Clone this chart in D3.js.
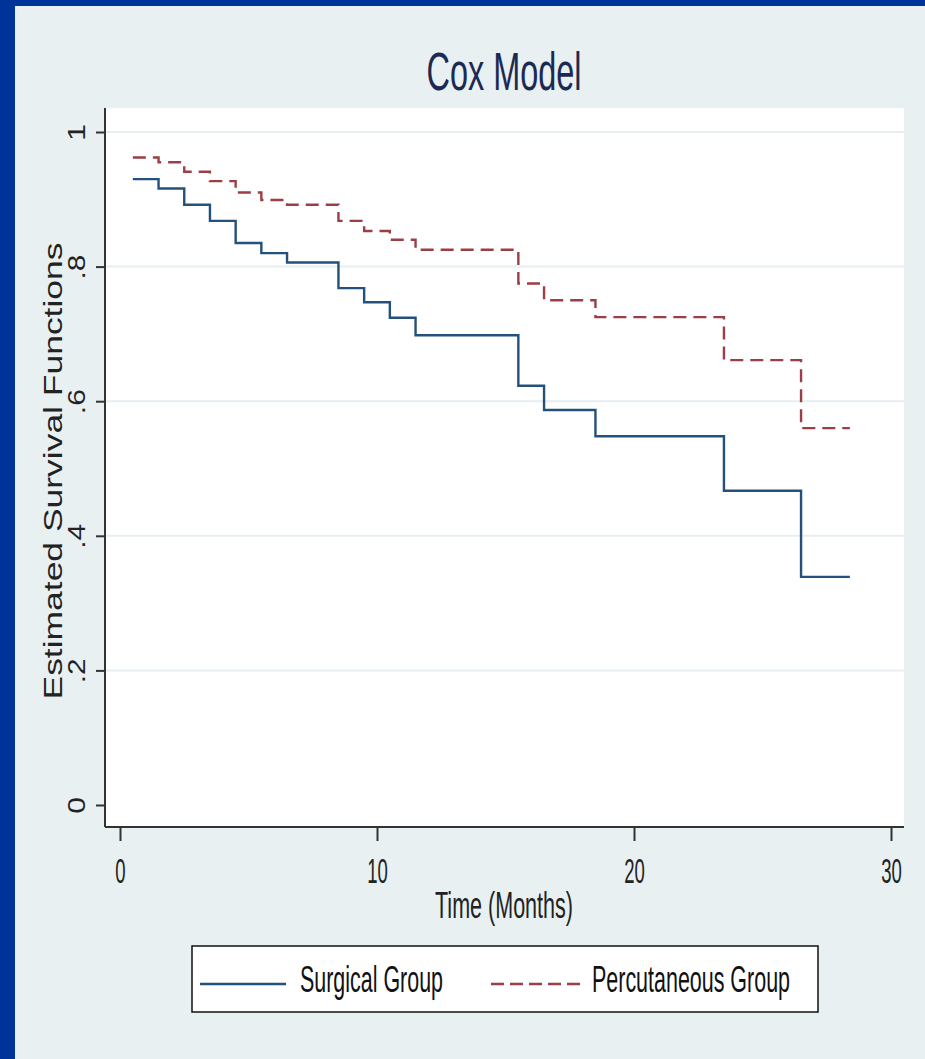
<!DOCTYPE html>
<html>
<head>
<meta charset="utf-8">
<script src="https://cdn.jsdelivr.net/npm/d3@7"></script>
<style>
  html, body { margin: 0; padding: 0; background: #003399; }
  svg { display: block; }
</style>
</head>
<body>
<div id="chart"></div>
<script>
// data (Cox model survival estimates)
const times = [0.5, 1.5, 2.5, 3.5, 4.5, 5.5, 6.5, 8.5, 9.5, 10.5, 11.5, 15.5, 16.5, 18.5, 23.5, 26.5, 28.4];
const surgical = [0.930, 0.916, 0.892, 0.868, 0.835, 0.820, 0.806, 0.768, 0.747, 0.724, 0.698, 0.623, 0.587, 0.548, 0.467, 0.339, 0.339];
const percutaneous = [0.962, 0.955, 0.941, 0.927, 0.910, 0.899, 0.892, 0.868, 0.853, 0.840, 0.825, 0.775, 0.750, 0.725, 0.661, 0.560, 0.560];
const xTicks = [0, 10, 20, 30];
const yTicks = [0, 0.2, 0.4, 0.6, 0.8, 1];
const yTickLabels = ["0", ".2", ".4", ".6", ".8", "1"];
const seriesNames = ["Surgical Group", "Percutaneous Group"];

const W = 925, H = 1059;
const font = "'Liberation Sans', Arial, sans-serif";

const svg = d3.select("#chart").append("svg")
    .attr("width", W)
    .attr("height", H)
    .attr("font-family", font);

// blue frame + light background
svg.append("rect").attr("width", W).attr("height", H).attr("fill", "#003399");
svg.append("rect").attr("x", 15).attr("y", 6).attr("width", W - 15).attr("height", H - 6).attr("fill", "#e8f0f2");

// plot region
const plot = {left: 105, right: 904, top: 108, bottom: 827};
svg.append("rect")
    .attr("x", plot.left).attr("y", plot.top)
    .attr("width", plot.right - plot.left).attr("height", plot.bottom - plot.top)
    .attr("fill", "#ffffff");

const x = d3.scaleLinear().domain([0, 30]).range([120, 891]);
const y = d3.scaleLinear().domain([0, 1]).range([805, 132]);

// gridlines
svg.append("g").selectAll("line")
    .data(yTicks.filter(d => d > 0))
    .enter().append("line")
    .attr("x1", plot.left).attr("x2", plot.right)
    .attr("y1", d => y(d)).attr("y2", d => y(d))
    .attr("stroke", "#e6eef1")
    .attr("stroke-width", 2);

// title (narrow look, like the Stata output)
svg.append("text")
    .attr("x", 504).attr("y", 90)
    .attr("text-anchor", "middle")
    .attr("font-size", 53)
    .attr("textLength", 155)
    .attr("lengthAdjust", "spacingAndGlyphs")
    .attr("fill", "#1c2a53")
    .text("Cox Model");

// x axis
const xAxis = svg.append("g")
    .attr("transform", "translate(0," + plot.bottom + ")")
    .call(d3.axisBottom(x).tickValues(xTicks).tickSize(14).tickSizeOuter(0));
xAxis.select(".domain").attr("d", "M" + plot.left + ",0H" + plot.right);
xAxis.selectAll("line, path").attr("stroke", "#333").attr("stroke-width", 2);
xAxis.selectAll("text")
    .attr("y", 56).attr("dy", null)
    .attr("transform", "scale(0.53,1)")
    .attr("font-size", 35)
    .attr("font-family", font)
    .attr("fill", "#222");

svg.append("text")
    .attr("x", 504).attr("y", 918)
    .attr("text-anchor", "middle")
    .attr("font-size", 37)
    .attr("textLength", 138)
    .attr("lengthAdjust", "spacingAndGlyphs")
    .attr("fill", "#222")
    .text("Time (Months)");

// y axis
const yAxis = svg.append("g")
    .attr("transform", "translate(" + plot.left + ",0)")
    .call(d3.axisLeft(y).tickValues(yTicks).tickSize(9).tickSizeOuter(0)
        .tickFormat((d, i) => yTickLabels[i]));
yAxis.select(".domain").attr("d", "M0," + plot.top + "V" + plot.bottom);
yAxis.selectAll("line, path").attr("stroke", "#333").attr("stroke-width", 2);
yAxis.selectAll("text")
    .attr("x", null).attr("dy", null)
    .attr("transform", "translate(-20,0) rotate(-90) scale(1.3,1)")
    .attr("text-anchor", "middle")
    .attr("font-size", 23)
    .attr("font-family", font)
    .attr("fill", "#222");

svg.append("text")
    .attr("transform", "translate(62,471) rotate(-90)")
    .attr("text-anchor", "middle")
    .attr("font-size", 25)
    .attr("textLength", 457)
    .attr("lengthAdjust", "spacingAndGlyphs")
    .attr("fill", "#222")
    .text("Estimated Survival Functions");

// survival curves
const line = d3.line()
    .x(d => x(d[0]))
    .y(d => y(d[1]))
    .curve(d3.curveStepAfter);

const series = [
    {name: seriesNames[0], values: surgical, color: "#24507c", dash: null, width: 143},
    {name: seriesNames[1], values: percutaneous, color: "#9c3e46", dash: "13,7", width: 198}
];

svg.append("g").selectAll("path")
    .data(series)
    .enter().append("path")
    .attr("d", s => line(times.map((t, i) => [t, s.values[i]])))
    .attr("fill", "none")
    .attr("stroke", s => s.color)
    .attr("stroke-width", 2.4)
    .attr("stroke-dasharray", s => s.dash);

// legend
const legend = svg.append("g");
legend.append("rect")
    .attr("x", 192).attr("y", 946)
    .attr("width", 626).attr("height", 66)
    .attr("fill", "#ffffff")
    .attr("stroke", "#111")
    .attr("stroke-width", 1.5);

const legendItems = [
    {x1: 200, x2: 286, tx: 300},
    {x1: 491, x2: 582, tx: 592}
];
legendItems.forEach((p, i) => {
    legend.append("line")
        .attr("x1", p.x1).attr("x2", p.x2)
        .attr("y1", 984).attr("y2", 984)
        .attr("stroke", series[i].color)
        .attr("stroke-width", 2.4)
        .attr("stroke-dasharray", series[i].dash ? "13,6" : null);
    legend.append("text")
        .attr("x", p.tx).attr("y", 992)
        .attr("font-size", 37)
        .attr("textLength", series[i].width)
        .attr("lengthAdjust", "spacingAndGlyphs")
        .attr("fill", "#111")
        .text(series[i].name);
});
</script>
</body>
</html>
